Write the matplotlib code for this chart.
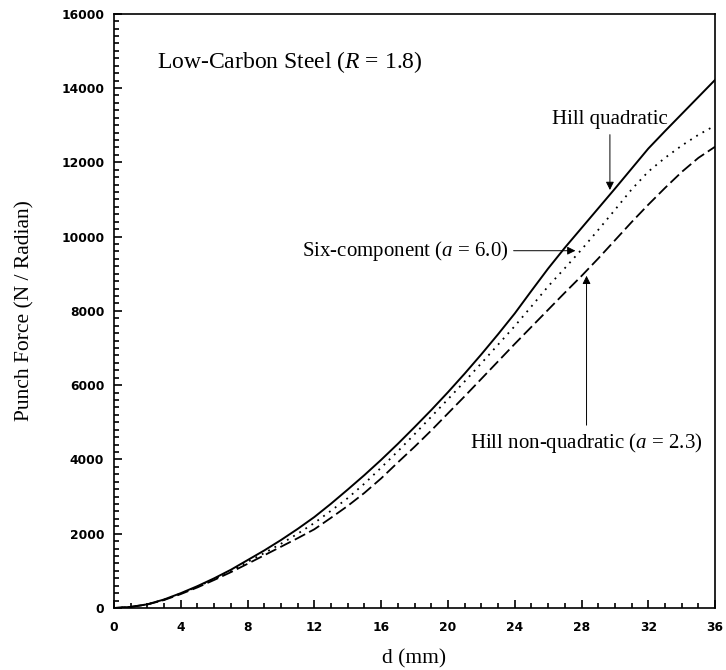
import matplotlib
matplotlib.use("Agg")
import matplotlib.pyplot as plt
from matplotlib.ticker import MultipleLocator

plt.rcParams['mathtext.fontset'] = 'custom'
plt.rcParams['mathtext.rm'] = 'Liberation Serif'
plt.rcParams['mathtext.it'] = 'Liberation Serif:italic'

# displacement d (mm)
d = list(range(0, 37))

# punch force (N / Radian)
hill_quad = [0, 30, 100, 230, 400, 590, 800, 1030, 1290, 1550,
             1830, 2130, 2450, 2810, 3190, 3580, 3990, 4420, 4870, 5330,
             5810, 6310, 6830, 7370, 7930, 8540, 9140, 9700, 10230, 10760,
             11290, 11830, 12370, 12840, 13300, 13760, 14220]
six_comp = [0, 30, 100, 225, 390, 575, 780, 1000, 1240, 1480,
            1730, 2000, 2290, 2620, 2960, 3350, 3780, 4220, 4680, 5150,
            5620, 6100, 6590, 7090, 7590, 8120, 8660, 9150, 9650, 10180,
            10720, 11270, 11750, 12120, 12450, 12740, 12990]
hill_nonquad = [0, 30, 95, 215, 375, 555, 755, 965, 1190, 1420,
                1650, 1880, 2120, 2430, 2750, 3100, 3490, 3920, 4340, 4780,
                5240, 5700, 6170, 6640, 7110, 7570, 8030, 8490, 8940, 9410,
                9900, 10390, 10860, 11310, 11740, 12120, 12420]

serif = 'Liberation Serif'

fig = plt.figure(figsize=(7.26, 6.70), dpi=100)
ax = fig.add_axes([0.157, 0.0925, 0.828, 0.887])

ax.plot(d, hill_quad, color='black', lw=1.4, linestyle='-')
ax.plot(d, six_comp, color='black', lw=1.3, linestyle=(0, (1, 3)))
ax.plot(d, hill_nonquad, color='black', lw=1.3, linestyle=(0, (6.5, 2.5)))

ax.set_xlim(0, 36)
ax.set_ylim(0, 16000)
ax.xaxis.set_major_locator(MultipleLocator(4))
ax.xaxis.set_minor_locator(MultipleLocator(1))
ax.yaxis.set_major_locator(MultipleLocator(2000))
ax.yaxis.set_minor_locator(MultipleLocator(200))
ax.tick_params(which='both', direction='in', top=False, right=False, width=1.2)
ax.tick_params(which='major', length=6)
ax.tick_params(which='minor', length=3.5)
ax.tick_params(axis='x', pad=9)
ax.tick_params(axis='y', pad=7)
for lab in ax.get_xticklabels() + ax.get_yticklabels():
    lab.set_fontfamily('DejaVu Sans')
    lab.set_fontweight('bold')
    lab.set_fontsize(8.8)
for s in ax.spines.values():
    s.set_linewidth(1.2)

ax.set_xlabel('d (mm)', fontfamily=serif, fontsize=15.5, labelpad=11)
ax.set_ylabel('Punch Force (N / Radian)', fontfamily=serif, fontsize=15.5, labelpad=19)

ax.text(2.58, 14700, 'Low-Carbon Steel ($R$ = 1.8)', fontfamily=serif,
        fontsize=17, ha='left', va='center')

arrow = dict(arrowstyle='-|>', color='black', lw=0.7, mutation_scale=12)
ax.annotate('Hill quadratic', xy=(29.7, 11180), xytext=(29.7, 13150),
            fontfamily=serif, fontsize=15, ha='center', va='center',
            arrowprops=arrow)
ax.annotate('Six-component ($a$ = 6.0)', xy=(27.8, 9620), xytext=(23.6, 9620),
            fontfamily=serif, fontsize=15, ha='right', va='center',
            arrowprops=arrow)
ax.annotate('Hill non-quadratic ($a$ = 2.3)', xy=(28.3, 9020), xytext=(28.3, 4450),
            fontfamily=serif, fontsize=15, ha='center', va='center',
            arrowprops=arrow)

fig.savefig('out.png', dpi=100)
